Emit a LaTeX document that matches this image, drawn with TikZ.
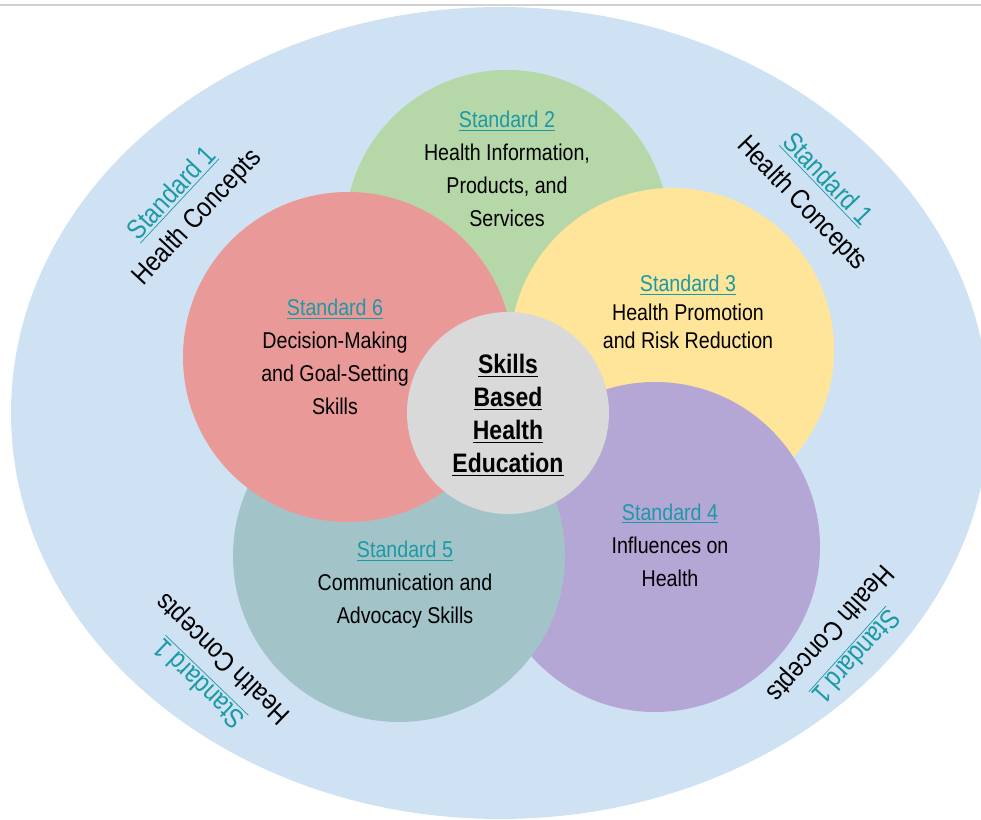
\documentclass[tikz,border=0pt]{standalone}
\usepackage{fontspec}
\setmainfont{Liberation Sans}[FakeStretch=0.86]
\definecolor{outerblue}{HTML}{CFE2F3}
\definecolor{stdgreen}{HTML}{B6D7A8}
\definecolor{stdyellow}{HTML}{FFE599}
\definecolor{stdpurple}{HTML}{B4A7D6}
\definecolor{stdteal}{HTML}{A2C4C9}
\definecolor{stdred}{HTML}{EA9999}
\definecolor{coregray}{HTML}{D9D9D9}
\definecolor{titleteal}{HTML}{1B9AA6}
\newcommand{\StdTitle}[1]{\textcolor{titleteal}{\underline{Standard #1}}}
\newcommand{\HealthConcepts}{\StdTitle{1}\\Health Concepts}
\tikzset{
  stdtext/.style={align=center, font=\fontsize{13}{18.8}\selectfont},
  cornertext/.style={align=center, font=\fontsize{15.6}{19.5}\selectfont},
  coretext/.style={align=center, font=\bfseries\fontsize{15.2}{18.8}\selectfont}
}
\begin{document}
\begin{tikzpicture}[x=0.02cm, y=-0.02cm]
  \useasboundingbox (0,0) rectangle (981,820);
  \draw[line width=1.2pt, black!18] (0,5) -- (981,5);
  % outer ring
  \fill[outerblue] (500,413) ellipse (489 and 406);
  % standards
  \fill[stdgreen] (507,232) circle (162);
  \fill[stdyellow] (672,350) circle (162);
  \fill[stdpurple] (655,547) circle (165);
  \fill[stdteal] (399,556) circle (166);
  \fill[stdred] (348,357) circle (165);
  \fill[coregray] (508,413) circle (101);
  \node[stdtext] (std2) at (507,169) {\StdTitle{2}\\Health Information,\\Products, and\\Services};
  \node[stdtext, font=\fontsize{13}{16.2}\selectfont] (std3) at (688,312) {\StdTitle{3}\\Health Promotion\\and Risk Reduction};
  \node[stdtext] (std4) at (670,545) {\StdTitle{4}\\Influences on\\Health};
  \node[stdtext] (std5) at (405,585) {\StdTitle{5}\\Communication and\\Advocacy Skills};
  \node[stdtext] (std6) at (335,357) {\StdTitle{6}\\Decision-Making\\and Goal-Setting\\Skills};
  \node[coretext] (core) at (508,415) {\underline{Skills}\\\underline{Based}\\\underline{Health}\\\underline{Education}};
  % standard 1 round the edge
  \node[cornertext, rotate=47] (std1nw) at (185,206) {\HealthConcepts};
  \node[cornertext, rotate=-46] (std1ne) at (814,192) {\HealthConcepts};
  \node[cornertext, rotate=136] (std1sw) at (212,670) {\HealthConcepts};
  \node[cornertext, rotate=-132] (std1se) at (842,644) {\HealthConcepts};
\end{tikzpicture}
\end{document}
